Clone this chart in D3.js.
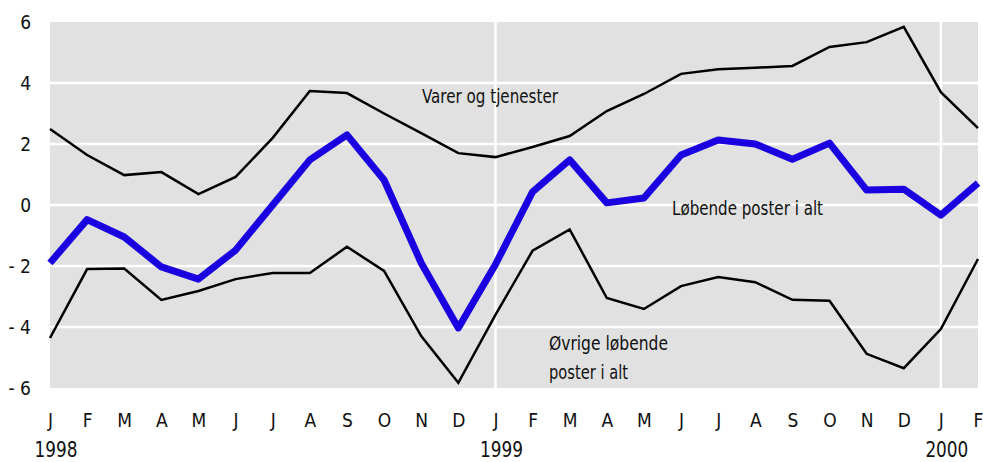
<!DOCTYPE html>
<html lang="no">
	<head>
		<meta charset="utf-8">
		<title>Løpende poster</title>
		<script src="https://cdn.jsdelivr.net/npm/d3@7"></script>
		<style>
			body, html {
				margin: 0;
				background: #fff;
			}
			.txt {
				font-family: 'Liberation Sans Narrow', 'Arial Narrow', 'DejaVu Sans Condensed', sans-serif;
				fill: #111;
			}
			.axis .domain, .axis line {
				display: none;
			}
		</style>
	</head>
	<body>
		<script>
			// months Jan 1998 .. Feb 2000
			var months = ["J","F","M","A","M","J","J","A","S","O","N","D",
				"J","F","M","A","M","J","J","A","S","O","N","D","J","F"];
			var years = [{i: 0, label: "1998"}, {i: 12, label: "1999"}, {i: 24, label: "2000"}];
			var yTicks = [-6, -4, -2, 0, 2, 4, 6];

			var varer = [2.49, 1.64, 0.98, 1.08, 0.36, 0.92, 2.2, 3.74, 3.67, 3.0, 2.36, 1.7,
				1.57, 1.9, 2.26, 3.08, 3.64, 4.3, 4.45, 4.5, 4.56, 5.18, 5.34, 5.84, 3.7, 2.52];
			var lopende = [-1.9, -0.48, -1.05, -2.03, -2.43, -1.48, 0.0, 1.48, 2.3, 0.82, -1.9, -4.03,
				-1.95, 0.43, 1.48, 0.07, 0.23, 1.64, 2.13, 2.0, 1.5, 2.03, 0.49, 0.52, -0.33, 0.72];
			var ovrige = [-4.36, -2.1, -2.08, -3.11, -2.82, -2.43, -2.23, -2.23, -1.37, -2.16, -4.3, -5.83,
				-3.6, -1.5, -0.8, -3.05, -3.41, -2.66, -2.36, -2.53, -3.11, -3.14, -4.88, -5.35, -4.07, -1.77];

			var w = 983, h = 462;
			var m = {top: 22, right: 5, bottom: 74, left: 50};

			var svg = d3.select("body").append("svg")
				.attr("width", w)
				.attr("height", h);

			var x = d3.scaleLinear()
				.domain([0, months.length - 1])
				.range([m.left, w - m.right]);
			var y = d3.scaleLinear()
				.domain([-6, 6])
				.range([h - m.bottom, m.top]);

			// background
			svg.append("rect")
				.attr("x", x(0))
				.attr("y", y(6))
				.attr("width", x(months.length - 1) - x(0))
				.attr("height", y(-6) - y(6))
				.attr("fill", "#e1e1e1");

			// white grid lines
			svg.selectAll(".hgrid")
				.data(yTicks.filter(function(d) { return d > -6 && d < 6; }))
				.enter().append("line")
				.attr("x1", x(0)).attr("x2", x(months.length - 1))
				.attr("y1", function(d) { return y(d); })
				.attr("y2", function(d) { return y(d); })
				.attr("stroke", "#fff")
				.attr("stroke-width", 2.5);

			svg.selectAll(".vgrid")
				.data(years.filter(function(d) { return d.i > 0; }))
				.enter().append("line")
				.attr("x1", function(d) { return x(d.i); })
				.attr("x2", function(d) { return x(d.i); })
				.attr("y1", y(6)).attr("y2", y(-6))
				.attr("stroke", "#fff")
				.attr("stroke-width", 2.5);

			// y axis
			var yAxis = svg.append("g")
				.attr("class", "axis")
				.attr("transform", "translate(" + 31 + ",0)")
				.call(d3.axisLeft(y).tickValues(yTicks).tickSize(0).tickPadding(0)
					.tickFormat(function(d) { return d < 0 ? "- " + Math.abs(d) : d; }));
			yAxis.selectAll("text")
				.attr("class", "txt")
				.style("font-size", "19px")
				.attr("fill", "#111");

			// x axis
			var xAxis = svg.append("g")
				.attr("class", "axis")
				.attr("transform", "translate(0," + 413 + ")")
				.call(d3.axisBottom(x).tickValues(d3.range(months.length)).tickSize(0).tickPadding(0)
					.tickFormat(function(i) { return months[i]; }));
			xAxis.selectAll("text")
				.attr("class", "txt")
				.style("font-size", "19px")
				.attr("fill", "#111");

			svg.selectAll(".year")
				.data(years)
				.enter().append("text")
				.attr("class", "txt year")
				.attr("x", function(d) { return x(d.i) + 6; })
				.attr("y", 457)
				.attr("text-anchor", "middle")
				.attr("textLength", 43)
				.attr("lengthAdjust", "spacingAndGlyphs")
				.style("font-size", "21px")
				.text(function(d) { return d.label; });

			// lines
			var line = d3.line()
				.x(function(d, i) { return x(i); })
				.y(function(d) { return y(d); });

			svg.append("path").datum(varer)
				.attr("d", line)
				.attr("fill", "none")
				.attr("stroke", "#000")
				.attr("stroke-width", 2.5);

			svg.append("path").datum(ovrige)
				.attr("d", line)
				.attr("fill", "none")
				.attr("stroke", "#000")
				.attr("stroke-width", 2.5);

			svg.append("path").datum(lopende)
				.attr("d", line)
				.attr("fill", "none")
				.attr("stroke", "#1a00e0")
				.attr("stroke-width", 7)
				.attr("stroke-linejoin", "round");

			// series labels
			var labels = [
				{t: "Varer og tjenester", x: 422, y: 103, len: 136},
				{t: "Løbende poster i alt", x: 672, y: 215, len: 151},
				{t: "Øvrige løbende", x: 549, y: 350, len: 119},
				{t: "poster i alt", x: 549, y: 379, len: 79}
			];
			svg.selectAll(".lab")
				.data(labels)
				.enter().append("text")
				.attr("class", "txt lab")
				.attr("x", function(d) { return d.x; })
				.attr("y", function(d) { return d.y; })
				.attr("textLength", function(d) { return d.len; })
				.attr("lengthAdjust", "spacingAndGlyphs")
				.style("font-size", "20px")
				.text(function(d) { return d.t; });
		</script>
	</body>
</html>
